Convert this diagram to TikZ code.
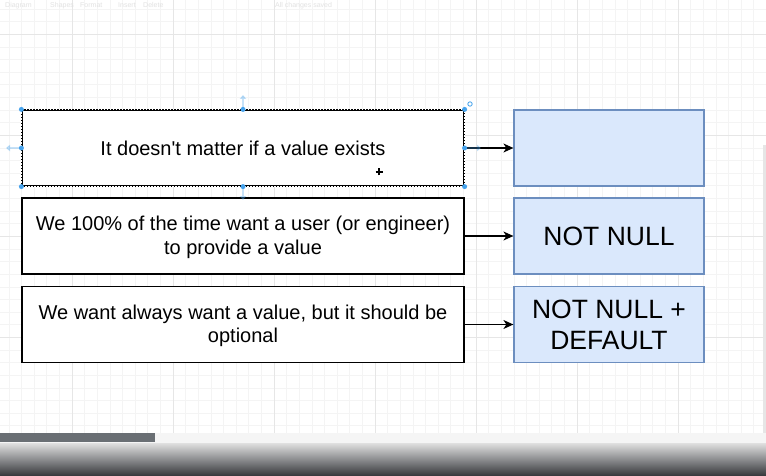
\documentclass[tikz,border=0pt]{standalone}
\usepackage{fontspec}
\setmainfont{Liberation Sans}
\usetikzlibrary{arrows.meta}
\definecolor{gridminor}{HTML}{F4F4F4}
\definecolor{gridmajor}{HTML}{E6E6E6}
\definecolor{bluefill}{HTML}{DAE8FC}
\definecolor{blueline}{HTML}{6C8EBF}
\definecolor{handle}{HTML}{45A2EC}
\definecolor{thumb}{HTML}{6A6F74}
\definecolor{darkbot}{HTML}{34363A}
\definecolor{tooltext}{HTML}{E2E2E2}
\tikzset{
  lbox/.style={draw=black, line width=1.2pt, fill=white, minimum width=442pt, minimum height=76pt, inner sep=0pt, align=center, font=\fontsize{20}{23.5}\selectfont},
  rbox/.style={draw=blueline, line width=1.2pt, fill=bluefill, minimum width=190pt, minimum height=76pt, inner sep=0pt, align=center, font=\fontsize{26.5}{31}\selectfont},
  arr/.style={line width=1.1pt, -{Stealth[length=10pt,width=9pt,inset=3pt]}},
  hdl/.style={circle, fill=handle, inner sep=0pt, minimum size=5pt},
  faint/.style={handle, opacity=0.3, line width=1.8pt, -{Triangle[length=4pt,width=6.5pt]}},
  tooltxt/.style={text=tooltext, font=\fontsize{7}{8}\selectfont, inner sep=0pt, anchor=west}
}
\begin{document}
\begin{tikzpicture}[x=1pt,y=-1pt]
\useasboundingbox (0,0) rectangle (766,476);
\fill[white] (0,0) rectangle (766,476);
% grid
\foreach \i in {0,...,60} {
  \pgfmathsetmacro\xx{8.875+12.625*\i}
  \draw[gridminor, line width=0.6pt] (\xx,0) -- (\xx,476);
}
\foreach \i in {0,...,37} {
  \pgfmathsetmacro\yy{9.05+12.625*\i}
  \draw[gridminor, line width=0.6pt] (0,\yy) -- (766,\yy);
}
\foreach \xx in {72,173,274,375,476,577,678}
  \draw[gridmajor, line width=0.7pt] (\xx,0) -- (\xx,476);
\foreach \yy in {34.3,135.3,236.3,337.3,438.3}
  \draw[gridmajor, line width=0.7pt] (0,\yy) -- (766,\yy);
% toolbar (faint)
\node[tooltxt] (t1) at (5,5.5) {Diagram};
\node[tooltxt] (t2) at (50,5.5) {Shapes};
\node[tooltxt] (t3) at (80,5.5) {Format};
\node[tooltxt] (t4) at (118,5.5) {Insert};
\node[tooltxt] (t5) at (143,5.5) {Delete};
\node[tooltxt] (t6) at (275,5.5) {All changes saved};
% boxes
\node[lbox] (q1) at (243,148) {It doesn\textquotesingle t matter if a value exists};
\node[lbox] (q2) at (243,236) {\rule{0pt}{17pt}We 100\% of the time want a user (or engineer)\\to provide a value};
\node[lbox] (q3) at (243,324.5) {\rule{0pt}{17pt}We want always want a value, but it should be\\optional};
\node[rbox] (a1) at (609,148) {};
\node[rbox] (a2) at (609,236) {NOT NULL};
\node[rbox] (a3) at (609,324.5) {NOT NULL +\\DEFAULT};
\draw[arr] (q1.east) -- (a1.west);
\draw[arr] (q2.east) -- (a2.west);
\draw[arr] (q3.east) -- (a3.west);
% selection decoration on first box
\draw[white, line width=0.6pt, dash pattern=on 1.5pt off 1.5pt] (q1.north west) rectangle (q1.south east);
\draw[faint] (243,108) -- (243,95);
\draw[faint] (243,188) -- (243,200);
\draw[faint] (19,148) -- (6,148);
\draw[faint] (467,148) -- (481,148);
\draw[handle, line width=0.8pt] (470,104) circle (2.2pt);
\foreach \p/\n in {q1.north west/h1, q1.north/h2, q1.north east/h3, q1.west/h4, q1.east/h5, q1.south west/h6, q1.south/h7, q1.south east/h8}
  \node[hdl] (\n) at (\p) {};
% cursor
\coordinate (cur) at (379,172);
\draw[black, line width=1.1pt] ([xshift=-3.5pt]cur) -- ([xshift=3.5pt]cur);
\draw[black, line width=1.1pt] ([yshift=-3.5pt]cur) -- ([yshift=3.5pt]cur);
% right edge bar
\fill[gridmajor] (762.5,145) rectangle (766,433);
% scrollbar and bottom shade
\fill[white!96!black] (0,433) rectangle (766,443);
\fill[thumb] (0,433) rectangle (155,442);
\shade[top color=white!88!black, bottom color=darkbot] (0,443) rectangle (766,476);
\end{tikzpicture}
\end{document}
